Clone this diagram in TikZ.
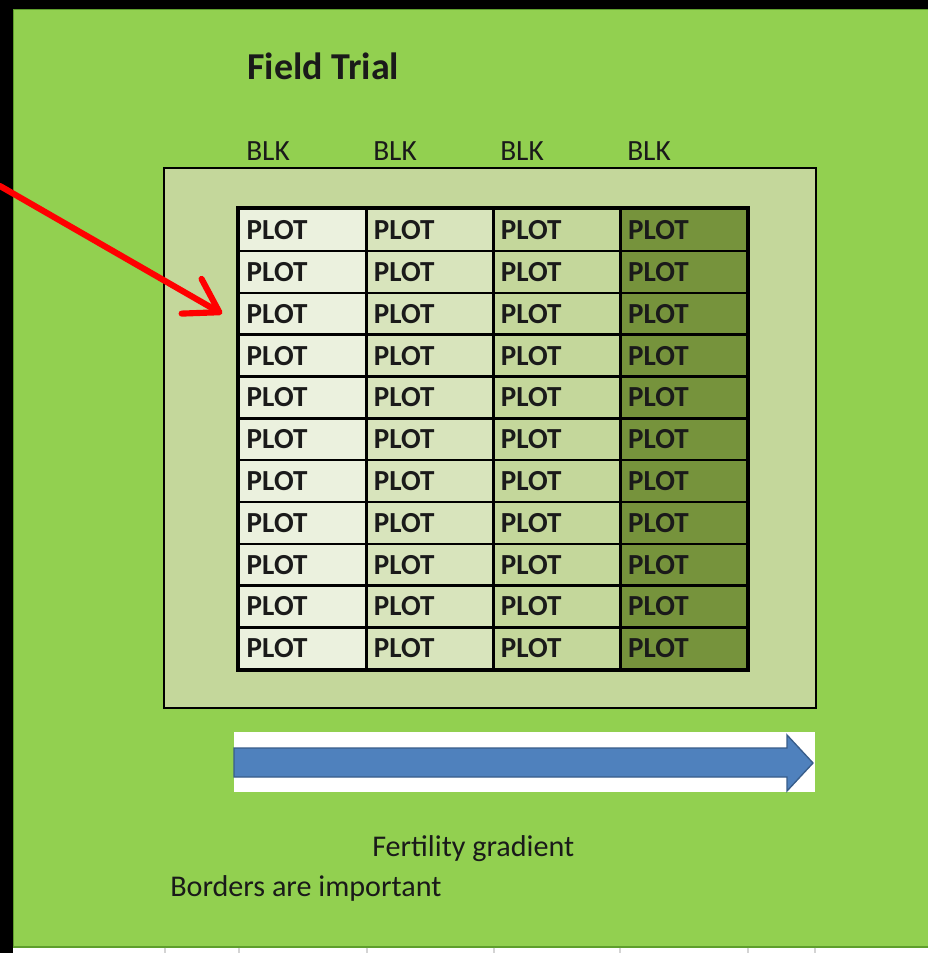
\documentclass[tikz,border=0pt]{standalone}
\usepackage{fontspec}
\setmainfont{Carlito}
\usetikzlibrary{arrows.meta,positioning,fit,backgrounds,calc}
\definecolor{cField}{HTML}{92D050}
\definecolor{cEdge}{HTML}{5E9E2C}
\definecolor{cBord}{HTML}{C4D79B}
\definecolor{cB1}{HTML}{EBF1DE}
\definecolor{cB2}{HTML}{D8E4BC}
\definecolor{cB3}{HTML}{C4D79B}
\definecolor{cB4}{HTML}{76933C}
\definecolor{cGrad}{HTML}{4F81BD}
\definecolor{cGradD}{HTML}{385D8A}
\definecolor{cGrid}{HTML}{D4D4D4}
\definecolor{cInk}{HTML}{1A1A1A}
\tikzset{
  every node/.style={text=cInk, inner sep=0pt},
  plot/.style={draw=black, line width=1.8pt, minimum width=95.3pt, minimum height=31.37pt, text width=84pt, align=left, font=\fontsize{21.8}{22}\selectfont\bfseries},
  blk/.style={anchor=west, font=\fontsize{22}{23}\selectfont},
  note/.style={anchor=west, font=\fontsize{22.6}{24}\selectfont},
  ptr/.style={-{Straight Barb[length=24pt,width=30pt,round]}, line width=4.6pt, draw=red, line cap=round},
}

\begin{document}
\begin{tikzpicture}[x=0.75pt,y=-0.75pt]
\useasboundingbox (0,0) rectangle (928,953);
% ---------------- sheet
\fill[white] (0,0) rectangle (928,953);
\fill[black] (0,0) rectangle (928,9);
\fill[black] (0,0) rectangle (13,953);
\path[fill=cField, draw=cEdge, line width=0.8pt] (13.5,9.5) rectangle (930,947);
\foreach \gx in {165,239,367,494,620,748,815}{\draw[cGrid, line width=0.9pt] (\gx,947.5) -- (\gx,953);}

% ---------------- title and block labels
\node[anchor=west, font=\fontsize{28.5}{30}\selectfont\bfseries] (title) at (247,66) {Field Trial};
\foreach \c in {1,...,4}{\node[blk] (blk-\c) at ({246+(\c-1)*127},151) {BLK};}

% ---------------- border and plots
\path[draw=black, line width=1.1pt, fill=cBord] (164,168) rectangle (816,708);
\foreach \c/\col in {1/cB1,2/cB2,3/cB3,4/cB4}{
  \foreach \r in {1,...,11}{
    \node[plot, fill=\col, anchor=north west] (p-\r-\c) at ({238+(\c-1)*127.1},{208+(\r-1)*41.82}) {PLOT};
  }
}
\node[draw=black, line width=2.4pt, fit=(p-1-1)(p-11-4)] (plots) {};

% ---------------- pointer
\coordinate (tail) at (0,186);
\draw[ptr] (tail) -- ([xshift=-12pt]p-3-1.west);

% ---------------- fertility gradient
\fill[white] (234,732) rectangle (815,792);
\path[fill=cGrad, draw=cGradD, line width=1pt, line join=miter] (234,748) -- (787,748) -- (787,735) -- (813,763) -- (787,791) -- (787,777) -- (234,777) -- cycle;
\node[note] (grad) at (372,849) {Fertility gradient};
\node[note] (borders) at (170,888) {Borders are important};
\end{tikzpicture}
\end{document}
